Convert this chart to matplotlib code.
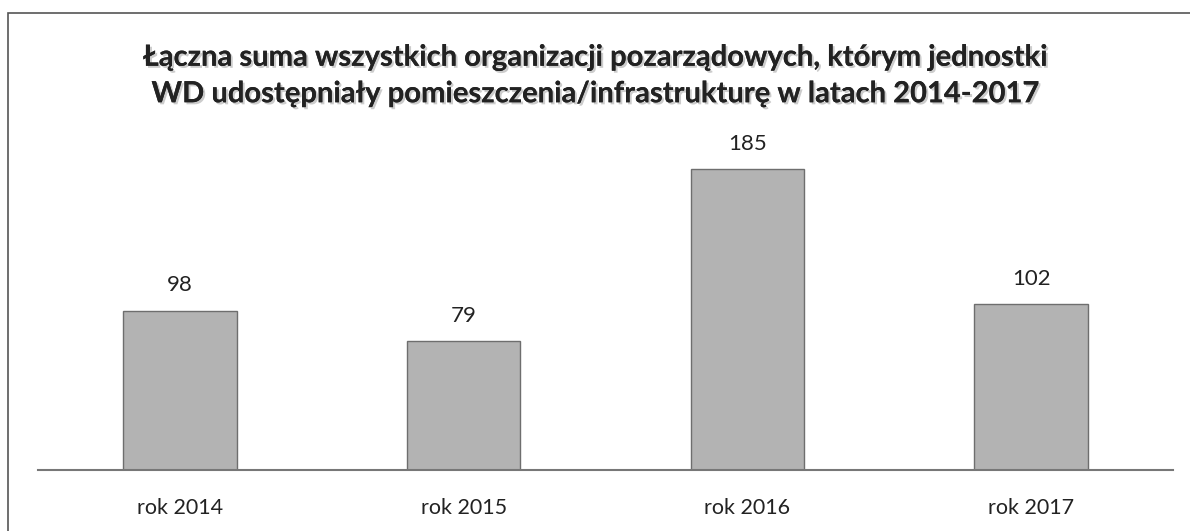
import matplotlib
matplotlib.use("Agg")
import matplotlib.pyplot as plt
import matplotlib.patheffects as pe
from matplotlib.patches import Rectangle

# ─── DATA ─────────────────────────────────────────────────────────────────────
years = ["rok 2014", "rok 2015", "rok 2016", "rok 2017"]
counts = [98, 79, 185, 102]

TITLE = ("Łączna suma wszystkich organizacji pozarządowych, którym jednostki\n"
         "WD udostępniały pomieszczenia/infrastrukturę w latach 2014-2017")

plt.rcParams["font.family"] = ["Lato", "DejaVu Sans"]

W, H = 1190, 531
fig = plt.figure(figsize=(W / 100, H / 100), dpi=100)
fig.patch.set_facecolor("white")

# outer frame (chart area border, cut off at right/bottom)
fig.add_artist(Rectangle((8 / W, -0.05), 1.2, (H - 13) / H + 0.05,
                         transform=fig.transFigure, fill=False,
                         edgecolor="#555555", linewidth=1.2))

ax = fig.add_axes([38 / W, (H - 470) / H, (1173 - 38) / W, (470 - 140) / H])
ax.set_xlim(-0.5, 3.5)
ax.set_ylim(0, 202.8)

x = range(len(years))
bars = ax.bar(x, counts, width=0.4, color="#b3b3b3", edgecolor="#6e6e6e",
              linewidth=1.0, zorder=2)

for xi, v in zip(x, counts):
    ax.annotate(str(v), xy=(xi, v), xytext=(0, 11), textcoords="offset points",
                ha="center", va="bottom", fontsize=16, color="#222222")

ax.set_xticks(list(x))
ax.set_xticklabels(years, fontsize=15.5, color="#222222")
ax.tick_params(axis="x", length=0, pad=20)
ax.set_yticks([])
for s in ["top", "right", "left"]:
    ax.spines[s].set_visible(False)
ax.spines["bottom"].set_color("#777777")
ax.spines["bottom"].set_linewidth(1.5)

fig.text(0.5, (H - 76) / H, TITLE, ha="center", va="center",
         fontsize=21, fontweight="bold", color="#222222", linespacing=1.5,
         path_effects=[pe.withSimplePatchShadow(offset=(1.5, -1.5),
                                                shadow_rgbFace="#aaaaaa", alpha=0.6),
                       pe.Normal()])

fig.savefig("out.png", dpi=100)
